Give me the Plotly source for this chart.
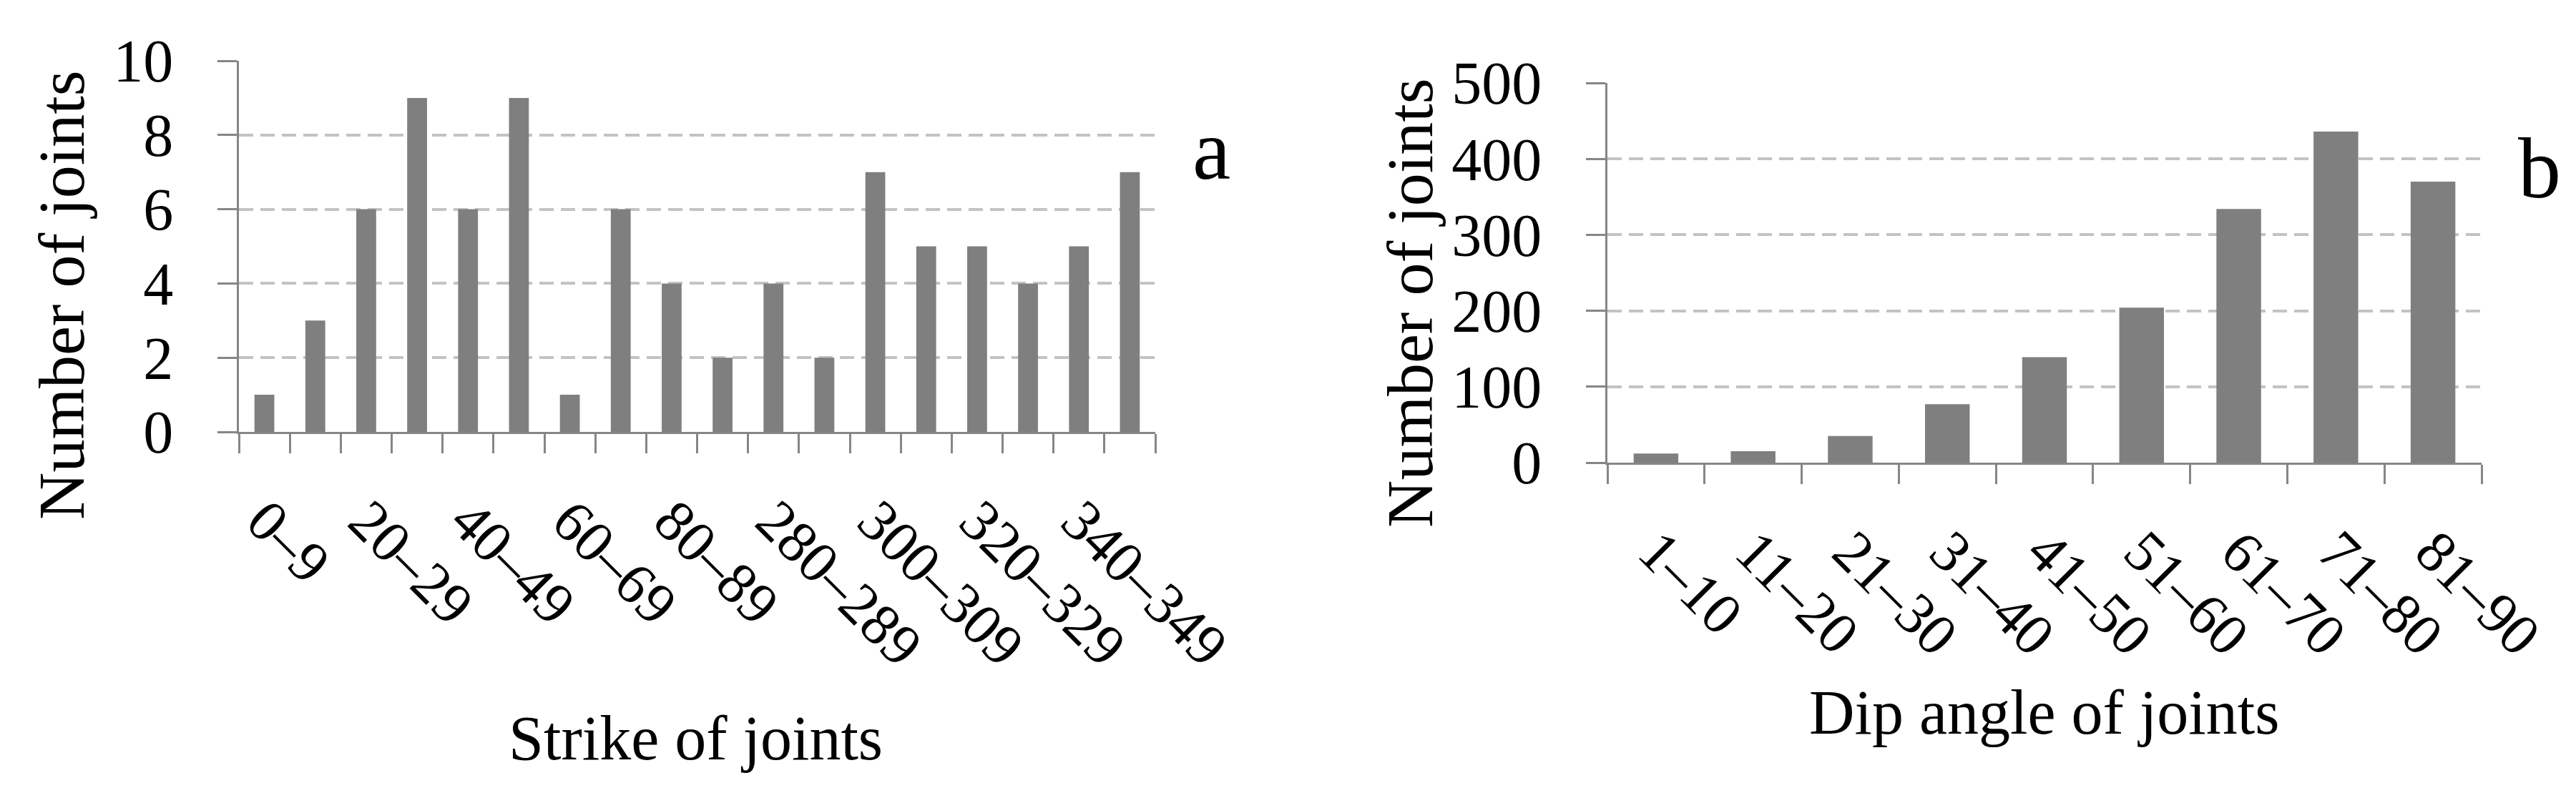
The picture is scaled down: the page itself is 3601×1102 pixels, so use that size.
import plotly.graph_objects as go

# strike classes (only every other one is labelled in the original)
strike_bins = ["0–9", "10–19", "20–29", "30–39", "40–49", "50–59", "60–69",
               "70–79", "80–89", "270–279", "280–289", "290–299", "300–309",
               "310–319", "320–329", "330–339", "340–349", "350–359"]
strike_counts = [1, 3, 6, 9, 6, 9, 1, 6, 4, 2, 4, 2, 7, 5, 5, 4, 5, 7]

dip_bins = ["1–10", "11–20", "21–30", "31–40", "41–50", "51–60", "61–70",
            "71–80", "81–90"]
dip_counts = [12, 15, 35, 77, 139, 204, 334, 436, 370]

W, H = 3601, 1102
FONT = "Liberation Serif"
BAR = "#7f7f7f"
AXIS = "#868686"
GRID = "#c3c3c3"

strike_x = list(range(len(strike_bins)))
dip_x = list(range(len(dip_bins)))

fig = go.Figure()
fig.add_trace(go.Bar(x=strike_x, y=strike_counts, marker_color=BAR,
                     marker_line_width=0, width=0.39,
                     xaxis="x", yaxis="y", showlegend=False))
fig.add_trace(go.Bar(x=dip_x, y=dip_counts, marker_color=BAR,
                     marker_line_width=0, width=0.46,
                     xaxis="x2", yaxis="y2", showlegend=False))


def px_x(p):
    return p / W


def px_y(p):
    return 1 - p / H


def x_axis(domain, n, labels_every):
    vals = list(range(0, n, labels_every))
    return dict(
        domain=domain, range=[-0.5, n - 0.5], automargin=False,
        showline=True, linecolor=AXIS, linewidth=3,
        showgrid=False, zeroline=False,
        ticks="", tickmode="array", tickvals=vals,
        tickangle=45, ticklabelstandoff=40,
        tickfont=dict(family=FONT, size=82, color="black"),
        minor=dict(tickmode="linear", tick0=-0.5, dtick=1, ticks="outside",
                   ticklen=27, tickwidth=3, tickcolor=AXIS, showgrid=False),
        fixedrange=True,
    )


def y_axis(domain, anchor, top, step):
    return dict(
        domain=domain, anchor=anchor, range=[0, top], automargin=False,
        tickmode="linear", tick0=0, dtick=step,
        showline=True, linecolor=AXIS, linewidth=3,
        ticks="outside", ticklen=27, tickwidth=3, tickcolor=AXIS,
        showgrid=True, gridcolor=GRID, gridwidth=4, griddash="20px,10px",
        zeroline=False, ticklabelstandoff=45,
        tickfont=dict(family=FONT, size=84, color="black"),
        fixedrange=True,
    )


xa = x_axis([px_x(326), px_x(1607)], len(strike_bins), 2)
xa["ticktext"] = strike_bins[::2]
xa["anchor"] = "y"
xb = x_axis([px_x(2239), px_x(3461)], len(dip_bins), 1)
xb["ticktext"] = dip_bins
xb["anchor"] = "y2"

fig.update_layout(
    width=W, height=H,
    margin=dict(l=0, r=0, t=0, b=0),
    paper_bgcolor="white", plot_bgcolor="white",
    xaxis=xa, xaxis2=xb,
    yaxis=y_axis([px_y(596), px_y(77)], "x", 10, 2),
    yaxis2=y_axis([px_y(639), px_y(108)], "x2", 500, 100),
    bargap=0.6,
)

ann_font = dict(family=FONT, color="black")
annotations = [
    dict(text="Number of joints", x=px_x(78), y=px_y(405), textangle=-90,
         font=dict(size=92, **ann_font)),
    dict(text="Number of joints", x=px_x(1963), y=px_y(416), textangle=-90,
         font=dict(size=92, **ann_font)),
    dict(text="Strike of joints", x=px_x(964), y=px_y(1024),
         font=dict(size=88, **ann_font)),
    dict(text="Dip angle of joints", x=px_x(2849), y=px_y(988),
         font=dict(size=88, **ann_font)),
    dict(text="a", x=px_x(1685), y=px_y(201), font=dict(size=120, **ann_font)),
    dict(text="b", x=px_x(3542), y=px_y(227), font=dict(size=120, **ann_font)),
]
for a in annotations:
    a.update(xref="paper", yref="paper", xanchor="center", yanchor="middle",
             showarrow=False)
fig.update_layout(annotations=annotations)

fig.write_html("out.html")
